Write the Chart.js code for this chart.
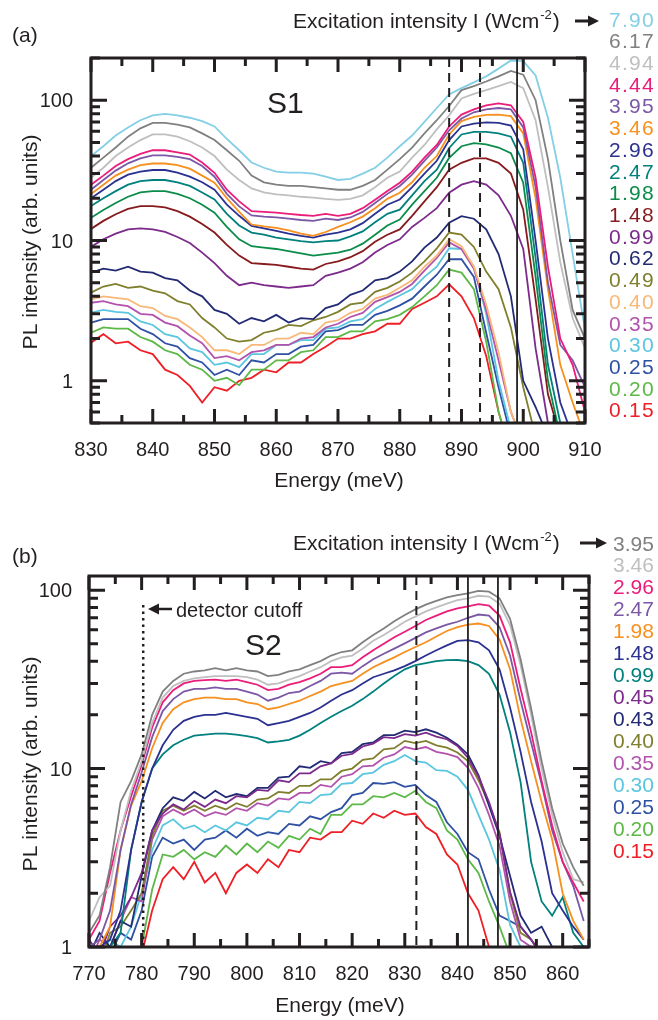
<!DOCTYPE html>
<html>
<head>
<meta charset="utf-8">
<script src="https://cdn.jsdelivr.net/npm/chart.js@4.4.1/dist/chart.umd.min.js"></script>
<style>
  html, body { margin: 0; padding: 0; background: #fff; }
  #wrap { position: relative; width: 658px; height: 1020px; }
  canvas { position: absolute; left: 0; }
  #cA { top: 0; width: 658px; height: 500px; }
  #cB { top: 500px; width: 658px; height: 520px; }
</style>
</head>
<body>
<div id="wrap">
  <canvas id="cA" width="658" height="500"></canvas>
  <canvas id="cB" width="658" height="520"></canvas>
</div>
<script>
// ---- panel (a), sample S1 ----
const energyA = [830,832,834,836,838,840,842,844,846,848, 850,852,854,856,858,860,862,864,866,868,
  870,872,874,876,878,880,882,884,886,888, 890,892,894,896,898,900,902,904,906,908, 910];
const xTicksA = [830,840,850,860,870,880,890,900,910];
const yTicksA = [1,10,100];
const labelsA = ["7.90","6.17","4.94","4.44","3.95","3.46","2.96","2.47","1.98","1.48",
  "0.99","0.62","0.49","0.40","0.35","0.30","0.25","0.20","0.15"];

const a790 = [40,47,56,64,72,78,80,78,75,71, 65,53,44,36,33,31,30.5,30.5,30,28.5, 27,27.5,30,33,39,47,56,70,88,110, 122,134,148,168,192,190,150,75,28,8, 2.3];
const a617 = [33,39,46,55,63,69,69,67,64,58, 52,44,37,29,26,25,24.5,24.5,24,23.5, 23,23,24.5,27,32,38,46,58,72,91, 118,126,136,148,162,152,100,38,10,3.2, 2.0];
const a494 = [28,33,40,46,52,57,57,55,51,46, 40,32,27,23.5,22,21.3,21,20.5,20.2,19.8, 19.5,19.8,21,24,28,31,39,48,62,78, 103,111,118,126,135,122,72,24,7,2.8, 1.7];
const a444 = [25,29,34,38,41.5,44,44,42.5,41,36, 30.4,23,19,16.2,16,15.8,15.5,15.2,15,15.5, 15,15.5,17,19.5,22.5,25.8,31,39,48,65, 79,86,92,95,92,70,28,6.5,2.0,1.3, 0.6];
const a395 = [23,27,31.5,35.5,38.5,40.5,40.5,39.5,38,34, 28.5,21.5,17.5,15.1,14.8,14.6,14.3,14,13.8,14.3, 14,14.6,16,18.5,21.5,24.5,29.5,37,46,61, 74,82,86,88,86,64,24,5,1.8,1.4, 0.9];
const a346 = [21.4,25,29,32,34.5,35.4,35.4,34.5,32.5,29, 25.8,20,16,13,12.6,12.3,11.8,11.2,10.8,11.5, 12.5,13.5,14.8,17,19.8,21.9,26,33,40,57, 71,76,78.5,79,77,58,20,4.5,1.3,0.7, 0.4];
const a296 = [20,23,26.5,29.5,31,31.8,31.8,30.5,28.5,26, 23,18,15,12.7,12.2,11.7,11.2,10.8,10.5,11, 11.4,12,13.3,15.5,18,19.6,24,30,37,52, 65,68,69.5,69,66,44.6,10,2,0.7,0.4, 0.3];
const a247 = [17.6,20,22.5,25,26.5,27,27,26,24.5,22, 19.6,15.5,12.8,11.4,11,10.5,10.2,9.9,9.7,9.9, 10,10.7,11.6,13.5,15.5,16.6,21,26.5,32,45.7, 57,59.5,59.5,58,55,35.8,7.5,1.3,0.5,0.3, 0.3];
const a198 = [14.5,16.5,18.5,20.5,22,22.5,22.5,21.5,20,18, 15.8,12.5,10.2,9.1,8.9,8.7,8.4,8.1,7.8,8, 8.2,8.6,9.5,11,12.8,14.1,18,22.5,28,38.8, 47,49.5,48.5,46,42,25.8,5.5,1.0,0.4,0.3, 0.3];
const a148 = [12.1,13.8,15.4,16.8,17.6,17.6,17.2,16.2,14.8,13.1, 11.4,9.3,7.8,6.9,6.8,6.7,6.5,6.3,6.2,6.8, 7.1,7.6,8.4,9.8,11,12,15,19,24,32, 35.8,38.5,38.5,35.8,30,16.6,3.8,0.8,0.4,0.3, 0.3];
const a099 = [9,10.2,11.2,12,12.2,12,11.5,10.6,9.6,8.2, 6.9,5.6,4.8,5.0,4.8,4.7,4.6,4.7,4.8,5.6, 5.9,6.3,7,8.2,9.3,10.2,12.5,14.5,17,21.9, 25,26.5,25,21,15,8.7,1.7,0.5,0.3,0.3, 0.3];
const a062 = [5.9,6.3,6.1,6.5,6.0,5.9,5.4,5.2,4.4,4.0, 3.2,3.0,2.55,2.8,2.65,2.95,2.6,2.8,2.75,3.3, 3.5,4.1,4.4,5.2,5.4,6.0,7.1,8.9,10.5,13.4, 14.9,14.3,12,8,4,1.0,0.65,0.4,0.3,0.3, 0.3];
const a049 = [4.25,4.7,4.9,4.6,4.7,4.4,4.2,3.7,3.5,2.8, 2.4,2.0,1.9,1.95,2.2,2.3,2.5,2.45,2.7,2.85, 3.1,3.5,3.6,4.3,4.6,5.1,5.9,7.1,8.8,11.4, 11,9,6,4.5,2.4,0.9,0.4,0.3,0.3,0.3, 0.3];
const a040 = [3.8,4.0,3.9,3.8,3.4,3.3,2.9,2.75,2.4,2.05, 1.65,1.65,1.55,1.8,1.8,2.0,2.0,2.2,2.15,2.6, 2.7,3.05,3.25,3.85,4.1,4.6,5.2,6.5,7.8,10.2, 9.1,6.5,3.5,1.6,0.6,0.35,0.3,0.3,0.3,0.3, 0.3];
const a035 = [3.6,3.7,3.5,3.4,3.0,2.95,2.6,2.45,2.1,1.85, 1.45,1.5,1.4,1.6,1.65,1.8,1.8,2.0,2.05,2.4, 2.55,2.85,3.05,3.65,3.95,4.3,4.9,6.1,7.5,9.7, 8.7,6.3,3.2,1.4,0.6,0.35,0.3,0.3,0.3,0.3, 0.3];
const a030 = [3.06,3.2,3.1,3.05,2.65,2.5,2.15,2.05,1.7,1.6, 1.3,1.35,1.25,1.55,1.55,1.8,1.8,1.95,1.95,2.35, 2.4,2.65,2.75,3.25,3.65,4.05,4.5,5.5,6.5,8.8, 8.7,6.5,3.0,1.0,0.45,0.3,0.3,0.3,0.3,0.3, 0.3];
const a025 = [2.6,2.75,2.75,2.75,2.35,2.15,1.85,1.75,1.45,1.35, 1.1,1.2,1.1,1.4,1.35,1.55,1.55,1.75,1.8,2.25, 2.3,2.5,2.5,2.95,3.15,3.45,3.85,4.7,5.7,7.35, 7.35,5.5,2.2,0.9,0.4,0.3,0.3,0.3,0.3,0.3, 0.3];
const a020 = [2.2,2.4,2.35,2.35,2.05,1.9,1.65,1.55,1.3,1.2, 1.0,1.05,0.93,1.2,1.2,1.4,1.4,1.6,1.65,2.05, 2.05,2.25,2.25,2.65,2.75,2.95,3.35,4.0,4.8,6.2, 5.9,4.5,1.9,0.6,0.3,0.3,0.3,0.3,0.3,0.3, 0.3];
const a015 = [1.87,2.15,1.85,1.9,1.65,1.55,1.2,1.1,0.92,0.7, 0.9,0.85,1.0,1.05,1.2,1.15,1.35,1.35,1.55,1.75, 2.0,2.0,2.15,2.25,2.55,2.55,3.25,3.6,4.0,4.87, 4.0,2.8,1.5,0.6,0.3,0.3,0.3,0.3,0.3,0.3, 0.3];

// ---- panel (b), sample S2 ----
const energyB = [770,772,774,776,778,780,782,784,786,788, 790,792,794,796,798,800,802,804,806,808,
  810,812,814,816,818,820,822,824,826,828, 830,832,834,836,838,840,842,844,846,848, 850,852,854,856,858,860,862,864];
const xTicksB = [770,780,790,800,810,820,830,840,850,860];
const yTicksB = [1,10,100];
const labelsB = ["3.95","3.46","2.96","2.47","1.98","1.48","0.99","0.45","0.43","0.40","0.35","0.30","0.25","0.20","0.15"];

const b395 = [1.2,1.5,2.8,6.5,8.5,12,20,27,31,34, 35,35.5,36.5,35.5,36.5,35.5,35,33,33.5,35, 36,38,40,43,45,46,51,56,61,67, 72.5,78,83,87,91,93.7,96,99,98,90, 69,41,21.7,11,6,3.8,2.8,2.2];
const b346 = [1.4,1.9,2.2,4.5,7.5,11,18,25,29,31, 32,32.5,33,33,33,32.5,31.5,29.5,30,31.5, 33,35,37,40,42,43,47,52,56,61, 66.5,71,76,80,84,88,90,93,92,84, 63.7,38,20,10,5.5,3.4,2.4,2.3];
const b296 = [1.1,1.4,2.6,4.5,7,10.5,17,23.5,27.5,30, 31,31.3,31.5,31,31.5,30.5,29.5,27.5,28,29.5, 30.5,32,34,37,37,38,42,46,50,54.5, 58.5,63,68,72,76,79,81,83.5,82,72, 51,28,16,8.5,4.8,3.0,2.3,1.8];
const b247 = [1.0,1.1,1.6,3.5,6.3,9.5,15,21,24.5,27, 28,28,28.5,28,28,27,26,24,25,26.5, 27,29,31,34,34.5,34,37.5,41,44,47, 50.3,54,58,61,64,66.5,70,73,72,62, 43,24,14,8.2,4.5,3.0,2.2,1.4];
const b198 = [1.0,1.0,1.3,3.5,6.2,8.5,13,18,21.5,23.5, 24.5,25,25,24.5,24.5,23.5,23,21.5,22,23, 24,25.5,27,29,30,31,34,37,39.5,42, 45,48,51,55,59,62,64,65,63,53, 36,19,11,6.5,4,2.0,1.4,1.1];
const b148 = [0.8,1.0,1.1,1.6,3.5,6.5,10,13.5,16.5,18.5, 19.5,20,20,20.5,20,19.5,19,17.5,18,18.5, 19.5,20.5,22,24,26,27.5,30,32.5,34,35.5, 37.5,40,43,46,49,52,52.5,51,46,36, 22,12.4,6.5,3.9,2.0,1.6,1.3,1.1];
const b099 = [0.8,0.9,1.0,1.2,3.5,6.5,10,12,13.5,14.5, 15.3,15.5,15.7,15.7,15.5,15.2,14.8,14,14.2,14.5, 15.3,16.5,18,19.5,21,22.5,24.5,27,30,33, 36,38,39,40,40.5,40.6,40,38,34,26, 16,8.4,3.0,1.8,1.5,1.9,1.2,1.0];
const b045 = [1.1,0.9,1.3,1.5,1.9,2.6,4.5,5.6,6.3,5.9, 6.6,6.1,6.7,6.4,7.0,6.9,7.6,7.5,8.6,8.4, 9.4,9.4,10.3,10.7,11.8,12.1,13.3,13.8,15.0,14.8, 15.6,15.3,15.9,15.1,14.6,13.4,11.5,9,6.5,4.3, 2.04,1.3,1.1,0.9,0.8,0.7,0.7,0.7];
const b043 = [0.9,1.2,1.0,1.4,1.3,2.5,4.5,6.0,6.9,6.6, 7.4,6.8,7.5,6.9,7.2,7.0,7.8,7.8,8.9,9.0, 10.3,10.1,11.0,10.7,12.2,12.4,13.7,14.0,15.4,15.4, 16.3,16.0,16.6,15.9,14.9,13.6,12,9.2,6.2,4.2, 2.5,1.5,1.2,1.3,1.0,0.8,0.7,0.7];
const b040 = [1.0,0.8,1.2,1.3,1.6,2.0,4.2,5.8,6.2,5.8, 6.2,5.8,6.2,5.9,6.4,6.1,6.7,6.8,7.4,7.3, 8.0,8.0,8.7,8.7,9.7,10.0,11.2,11.4,12.8,13.0, 14.3,13.9,14.3,13.5,13.1,12.3,11,8.6,6.3,4.4, 2.0,1.2,1.1,0.9,0.7,0.7,0.7,0.7];
const b035 = [0.8,1.1,1.0,1.4,1.9,1.8,4.0,5.4,5.9,5.5, 5.9,5.4,5.7,5.5,6.0,5.8,6.4,6.2,6.8,6.7, 7.3,7.3,8.1,7.9,9.0,9.3,10.3,10.4,11.5,12.0, 13.2,12.8,13.2,12.4,12.1,11.6,10.1,7.8,5.5,3.7, 1.8,1.1,1.0,0.8,0.7,0.7,0.7,0.7];
const b030 = [0.8,0.9,1.1,1.0,1.3,2.0,3.5,4.8,5.2,4.6, 4.8,4.4,4.8,4.5,5.0,4.8,5.3,5.2,5.8,5.7, 6.5,6.4,7.1,7.2,8.2,8.3,9.3,9.5,10.5,11.0, 11.9,11.0,10.8,9.8,9.7,9.0,7.6,5.5,4,2.7, 1.33,1.0,0.8,0.7,0.7,0.7,0.7,0.7];
const b025 = [0.8,1.0,0.9,1.2,1.1,1.6,3.2,4.1,3.8,4.0, 3.5,4.0,4.1,4.5,4.1,4.6,4.2,4.4,4.3,4.9, 4.8,5.4,5.2,5.7,6.0,7.1,7.3,8.3,8.2,8.4, 7.9,8.1,7.1,6.5,5.0,4.3,3.4,3.1,2.1,1.5, 1.4,1.3,1.1,0.9,0.7,0.7,0.7,0.7];
const b020 = [0.7,0.8,0.9,0.8,1.0,1.0,2.1,3.3,3.2,3.5, 3.1,3.4,3.2,3.7,3.3,3.8,3.4,3.9,3.6,4.2, 4.0,4.6,4.3,5.5,5.5,6.3,6.3,7.0,6.9,7.3, 6.9,7.5,6.5,6.0,4.5,4.0,3.1,2.6,1.8,1.3, 0.9,0.7,0.7,0.7,0.7,0.7,0.7,0.7];
const b015 = [0.6,0.7,0.6,0.8,0.9,0.9,1.6,2.4,2.8,2.4, 3.0,2.3,2.6,2.0,2.6,2.9,2.6,3.1,2.8,3.5, 3.4,4.1,4.0,4.4,4.4,5.1,4.9,5.6,5.3,5.8, 5.5,5.6,4.7,4.3,3.3,2.9,2.0,1.6,1.0,0.8, 0.7,0.7,0.7,0.7,0.7,0.7,0.7,0.7];

// colours
const INK = "#231f20";
const FONT = '"Liberation Sans", Arial, Helvetica, sans-serif';
const col = {
  sky: "#84cfe6", gray: "#808080", silver: "#bfbfbf", pink: "#ec1c7a", lilac: "#7b58a6",
  orange: "#f7901e", indigo: "#2b3190", teal: "#00817e", green: "#0b8c4a", maroon: "#861a1d",
  plum: "#7c2a8b", navy: "#222a74", olive: "#7f7f2e", peach: "#f8b878", orchid: "#b253ae",
  cyan: "#5ac6df", blue: "#2f51a3", lime: "#5cb847", red: "#ee1f26"
};

const seriesA = [a790,a617,a494,a444,a395,a346,a296,a247,a198,a148,a099,a062,a049,a040,a035,a030,a025,a020,a015];
const colorsA = [col.sky,col.gray,col.silver,col.pink,col.lilac,col.orange,col.indigo,col.teal,col.green,col.maroon,
  col.plum,col.navy,col.olive,col.peach,col.orchid,col.cyan,col.blue,col.lime,col.red];
const seriesB = [b395,b346,b296,b247,b198,b148,b099,b045,b043,b040,b035,b030,b025,b020,b015];
const colorsB = [col.gray,col.silver,col.pink,col.lilac,col.orange,col.indigo,col.teal,col.plum,col.navy,col.olive,
  col.orchid,col.cyan,col.blue,col.lime,col.red];


function arrow(ctx, x0, x1, y, dir) {
  // dir = 1 points right, -1 points left
  const tip = dir > 0 ? x1 : x0;
  const tail = dir > 0 ? x0 : x1;
  ctx.beginPath();
  ctx.moveTo(tail, y);
  ctx.lineTo(tip - dir * 8, y);
  ctx.stroke();
  ctx.beginPath();
  ctx.moveTo(tip, y);
  ctx.lineTo(tip - dir * 11, y - 5.5);
  ctx.lineTo(tip - dir * 11, y + 5.5);
  ctx.closePath();
  ctx.fill();
}

const decor = {
  id: "decor",
  afterDatasetsDraw(chart, args, o) {
    const ctx = chart.ctx, a = chart.chartArea;
    const sx = chart.scales.x, sy = chart.scales.y;
    ctx.save();
    ctx.strokeStyle = INK;
    ctx.fillStyle = INK;

    // marker lines
    o.marks.forEach(m => {
      const px = sx.getPixelForValue(m.at);
      ctx.beginPath();
      ctx.setLineDash(m.dash);
      ctx.lineWidth = m.w;
      ctx.moveTo(px, m.top !== undefined ? m.top : a.top);
      ctx.lineTo(px, a.bottom);
      ctx.stroke();
    });
    ctx.setLineDash([]);

    // frame
    ctx.lineWidth = 3;
    ctx.strokeRect(a.left, a.top, a.right - a.left, a.bottom - a.top);

    // x ticks, bottom and top, pointing in
    const xt = [];
    o.xMajor.forEach(v => {
      xt.push([v, 14]);
      if (v + 5 <= sx.max) xt.push([v + 5, 8]);
    });
    ctx.lineWidth = 3;
    xt.forEach(([v, len]) => {
      const px = sx.getPixelForValue(v);
      ctx.beginPath();
      ctx.moveTo(px, a.bottom); ctx.lineTo(px, a.bottom - len);
      ctx.moveTo(px, a.top); ctx.lineTo(px, a.top + len);
      ctx.stroke();
    });

    // y ticks, left and right
    const yt = [];
    const decades = [o.yMajor[0] / 10].concat(o.yMajor);
    decades.forEach(d => {
      if (d >= sy.min && d <= sy.max) yt.push([d, 16]);
      for (let k = 2; k <= 9; k++) {
        const v = k * d;
        if (v >= sy.min && v <= sy.max) yt.push([v, 9]);
      }
    });
    yt.forEach(([v, len]) => {
      const py = sy.getPixelForValue(v);
      ctx.beginPath();
      ctx.moveTo(a.left, py); ctx.lineTo(a.left + len, py);
      ctx.moveTo(a.right, py); ctx.lineTo(a.right - len, py);
      ctx.stroke();
    });

    // tick labels
    ctx.font = "20px " + FONT;
    ctx.textAlign = "center";
    o.xMajor.forEach(v => ctx.fillText(String(v), sx.getPixelForValue(v), o.xLabelBase));
    ctx.textAlign = "right";
    o.yMajor.forEach(v => ctx.fillText(String(v), o.yLabelRight, sy.getPixelForValue(v) + 7.2));

    // axis titles
    ctx.font = "21px " + FONT;
    ctx.textAlign = "center";
    ctx.fillText("Energy (meV)", (a.left + a.right) / 2 + 1, o.xTitleBase);
    ctx.save();
    ctx.translate(37, o.yTitleMid);
    ctx.rotate(-Math.PI / 2);
    ctx.fillText("PL intensity (arb. units)", 0, 0);
    ctx.restore();

    // panel letter and sample name
    ctx.textAlign = "left";
    ctx.font = "21px " + FONT;
    ctx.fillText(o.panel, 12, o.panelBase);
    ctx.font = "30px " + FONT;
    ctx.fillText(o.sample[0], o.sample[1], o.sample[2]);

    // header with superscript unit
    ctx.font = "21px " + FONT;
    const main = "Excitation intensity I (Wcm";
    const hx = 293, hb = o.headBase;
    ctx.fillText(main, hx, hb);
    const w1 = ctx.measureText(main).width;
    ctx.font = "13px " + FONT;
    ctx.fillText("-2", hx + w1 + 1, hb - 9);
    const w2 = ctx.measureText("-2").width;
    ctx.font = "21px " + FONT;
    ctx.fillText(")", hx + w1 + w2 + 2, hb);
    ctx.lineWidth = 3;
    arrow(ctx, o.arrowX[0], o.arrowX[1], o.arrowY, 1);

    // intensity list
    ctx.font = "21px " + FONT;
    ctx.letterSpacing = o.legSpacing;
    o.labels.forEach((t, i) => {
      ctx.fillStyle = o.colors[i];
      ctx.fillText(t, o.legX, o.legY0 + i * o.legStep + 7.5);
    });
    ctx.letterSpacing = "0px";
    ctx.fillStyle = INK;

    if (o.note) {
      ctx.font = "20px " + FONT;
      ctx.fillText(o.note.text, o.note.x, o.note.base);
      ctx.lineWidth = 2.5;
      arrow(ctx, o.note.ax[0], o.note.ax[1], o.note.ay, -1);
    }
    ctx.restore();
  }
};

function makeChart(id, energies, series, colors, box, scales, deco) {
  return new Chart(document.getElementById(id), {
    type: "line",
    data: {
      datasets: series.map((vals, i) => ({
        data: vals.map((v, j) => ({ x: energies[j], y: v })),
        borderColor: colors[i],
        borderWidth: 1.8,
        pointRadius: 0,
        tension: 0,
        fill: false
      }))
    },
    options: {
      responsive: false,
      animation: false,
      events: [],
      layout: { padding: { left: 0, top: box.top, right: box.right, bottom: 0 } },
      plugins: { legend: { display: false }, tooltip: { enabled: false }, decor: deco },
      scales: {
        x: {
          type: "linear", min: scales.x[0], max: scales.x[1],
          ticks: { display: false }, grid: { display: false, drawTicks: false }, border: { display: false },
          afterFit: s => { s.height = box.xh; }
        },
        y: {
          type: "logarithmic", min: scales.y[0], max: scales.y[1],
          ticks: { display: false }, grid: { display: false, drawTicks: false }, border: { display: false },
          afterFit: s => { s.width = box.yw; }
        }
      }
    },
    plugins: [decor]
  });
}

makeChart("cA", energyA, seriesA, colorsA,
  { top: 58, right: 73, xh: 77, yw: 91 },
  { x: [830, 910], y: [0.5, 200] },
  {
    xMajor: xTicksA, yMajor: yTicksA,
    marks: [ { at: 888, dash: [9, 6], w: 2 }, { at: 893, dash: [9, 6], w: 2 }, { at: 899, dash: [], w: 1.8 } ],
    xLabelBase: 456, yLabelRight: 73, xTitleBase: 487, yTitleMid: 242,
    panel: "(a)", panelBase: 42, sample: ["S1", 267, 113],
    headBase: 28, arrowX: [575, 599], arrowY: 21,
    labels: labelsA, colors: colorsA, legX: 609, legY0: 19, legStep: 21.72, legSpacing: "1.3px"
  });

makeChart("cB", energyB, seriesB, colorsB,
  { top: 76, right: 69, xh: 73, yw: 89 },
  { x: [770, 865], y: [1, 120] },
  {
    xMajor: xTicksB, yMajor: yTicksB,
    marks: [ { at: 780.3, dash: [2.5, 4], w: 2.5, top: 105 }, { at: 832.2, dash: [9, 6], w: 2 },
             { at: 842, dash: [], w: 1.8 }, { at: 847.7, dash: [], w: 1.8 } ],
    xLabelBase: 480, yLabelRight: 72, xTitleBase: 512, yTitleMid: 264,
    panel: "(b)", panelBase: 63, sample: ["S2", 245, 155],
    headBase: 50, arrowX: [580, 607], arrowY: 43,
    labels: labelsB, colors: colorsB, legX: 613, legY0: 43, legStep: 21.93, legSpacing: "0px",
    note: { text: "detector cutoff", x: 176, base: 116.5, ax: [148, 172], ay: 109 }
  });
</script>
</body>
</html>
